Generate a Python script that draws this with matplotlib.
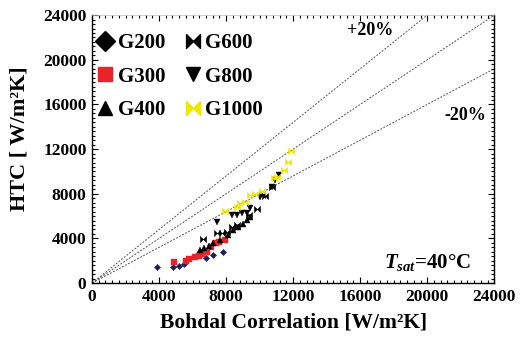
import matplotlib
matplotlib.use("Agg")
import matplotlib.pyplot as plt
from matplotlib.lines import Line2D
from matplotlib.ticker import MultipleLocator

plt.rcParams["font.family"] = "Liberation Serif"
plt.rcParams["font.weight"] = "bold"
plt.rcParams["mathtext.fontset"] = "custom"
plt.rcParams["mathtext.rm"] = "Liberation Serif:bold"
plt.rcParams["mathtext.it"] = "Liberation Serif:italic:bold"
plt.rcParams["mathtext.bf"] = "Liberation Serif:bold"

g200_x = [3900, 4820, 5170, 5490, 6800, 7240, 7840]
g200_y = [1400, 1460, 1550, 1680, 2260, 2530, 2770]

g300_x = [4910, 5610, 5810, 6150, 6410, 6550, 6850, 7100, 7400, 7600, 7940]
g300_y = [1910, 1970, 2120, 2300, 2420, 2600, 2810, 3200, 3550, 3700, 3850]

g400_x = [6450, 6690, 6950, 7240, 7640, 8140, 8440, 8730, 9030, 9240, 9430]
g400_y = [2960, 3100, 3310, 3580, 3850, 4290, 4750, 4990, 5290, 5640, 5940]

g600_x = [6650, 7440, 7740, 8040, 8340, 8640, 9340, 9830, 10130, 10330, 10730]
g600_y = [3910, 4510, 4510, 4590, 5050, 5190, 6090, 6680, 7880, 7790, 8630]

g800_x = [7440, 8340, 8640, 8940, 9240, 9430, 10030, 10730, 10930, 11170]
g800_y = [5490, 6090, 6090, 6240, 6300, 6770, 7730, 8570, 9230, 9670]

g1000_x = [7940, 8640, 8840, 9130, 9430, 9730, 10130, 10830, 11030, 11460, 11720, 11900]
g1000_y = [6450, 6840, 7190, 7280, 7880, 7970, 8240, 9370, 9520, 10120, 10860, 11870]

ref_line = [0, 24000]
bands = [1.2, 1.0, 0.8]

bowtie = [(-1, 1), (0, 0), (1, 1), (1, -1), (0, 0), (-1, -1), (-1, 1)]

# name, x, y, marker, point colour, legend colour, point size
series = [
    ("G200", g200_x, g200_y, "D", "#1c1f5a", "black", 3.2),
    ("G300", g300_x, g300_y, "s", "#e8242a", "#e8242a", 4.0),
    ("G400", g400_x, g400_y, "^", "black", "black", 4.0),
    ("G600", g600_x, g600_y, bowtie, "black", "black", 4.5),
    ("G800", g800_x, g800_y, "v", "black", "black", 4.0),
    ("G1000", g1000_x, g1000_y, bowtie, "#f2e600", "#f2e600", 4.5),
]

fig = plt.figure(figsize=(5.23, 3.37), dpi=100)
ax = fig.add_axes([0.176, 0.16, 0.769, 0.795])

for k in bands:
    ax.plot(ref_line, [k * v for v in ref_line], color="#555555", lw=0.7,
            linestyle=(0, (2, 1.5)), zorder=1)

for name, xs, ys, m, c, lc, ms in series:
    ax.plot(xs, ys, linestyle="none", marker=m, color=c, markersize=ms,
            markeredgewidth=0.3, markeredgecolor=c, zorder=3)

ax.set_xlim(0, 24000)
ax.set_ylim(0, 24000)
ax.xaxis.set_major_locator(MultipleLocator(4000))
ax.yaxis.set_major_locator(MultipleLocator(4000))
ax.xaxis.set_minor_locator(MultipleLocator(400))
ax.yaxis.set_minor_locator(MultipleLocator(400))
ax.tick_params(which="both", direction="in", top=True, right=True, width=0.8)
ax.tick_params(which="major", length=4)
ax.tick_params(which="minor", length=2)
ax.tick_params(axis="both", labelsize=12.5, pad=4)
for lab in ax.get_xticklabels() + ax.get_yticklabels():
    lab.set_fontweight("bold")
for s in ax.spines.values():
    s.set_linewidth(1.0)
ax.spines["top"].set_color("#bbbbbb")
ax.spines["top"].set_linewidth(0.5)

ax.set_xlabel("Bohdal Correlation [W/m²K]", fontsize=15.5, fontweight="bold", labelpad=6)
ax.set_ylabel("HTC [ W/m²K]", fontsize=16, fontweight="bold")
ax.yaxis.set_label_coords(-0.155, 0.54)

ax.text(16600, 22660, "+20%", fontsize=13, fontweight="bold", ha="center", va="center")
ax.text(22300, 15040, "-20%", fontsize=13, fontweight="bold", ha="center", va="center")
ax.text(20000, 1800, r"$T_{sat}$=40°C", fontsize=15, fontweight="bold",
        ha="center", va="center")

handles = []
for name, xs, ys, m, c, lc, ms in series:
    handles.append(Line2D([], [], linestyle="none", marker=m, color=lc,
                          markersize=10, markeredgecolor=lc, label=name))
ax.legend(handles=handles, ncol=2, loc="upper left",
          bbox_to_anchor=(-0.003, 0.965), frameon=False,
          handletextpad=0.3, columnspacing=1.0, handlelength=0.6,
          labelspacing=0.66, borderaxespad=0, borderpad=0.4,
          prop={"weight": "bold", "size": 15})

fig.savefig("out.png", dpi=100)
